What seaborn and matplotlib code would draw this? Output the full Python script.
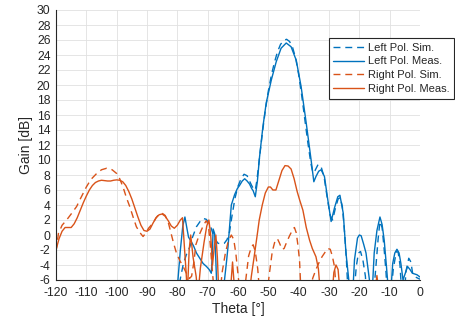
import matplotlib
matplotlib.use("Agg")
import matplotlib.pyplot as plt
import seaborn as sns

# values below -6 are clipped by the axis limit (MATLAB style)
left_sim_theta = [-80, -79, -78, -77, -75.9, -75, -73.7, -72.5, -71.5, -70.5, -69.9, -69, -68.3, -67.5,
                  -66.6, -65.5, -64.5, -63.6, -62.8, -62, -61, -60, -59, -58, -57, -56.2, -55.5, -54.8,
                  -54.3, -53.8, -53, -52, -51, -50, -49, -48, -47, -46, -45, -44, -43, -42, -41, -40,
                  -39, -38, -37, -36, -35.3, -34.6, -33.6, -32.6, -31.6, -30.6, -29.6, -28.8, -28, -27,
                  -26.3, -25.6, -25, -24.3, -23.7, -21.8, -21, -20.3, -19.6, -18.8, -18, -17.6, -15.3,
                  -14.6, -13.8, -13.2, -12.5, -11.9, -11.2, -10.8, -9.6, -8.8, -7.8, -7.2, -6.6, -6,
                  -5.2, -4.6, -3.7, -3.0, -2.4, -1.5, 0]
left_sim_gain = [-8, -5.8, -3.8, -2.6, -1.6, -0.3, 1.1, 1.8, 2.2, 2.1, 1.8, 1.1, 0.2, -0.6,
                 -1.1, -1.2, -1.1, -0.6, 0.4, 2.5, 4.9, 6.5, 7.5, 8.1, 7.9, 7.2, 6.6, 6.1,
                 6.0, 7.2, 10.0, 13.5, 16.6, 19.2, 21.3, 23.0, 24.4, 25.4, 25.9, 26.1, 25.8, 25.0, 23.6, 21.4,
                 18.6, 15.5, 12.4, 9.6, 8.3, 8.6, 9.4, 9.1, 7.7, 5.0, 2.6, 2.0, 3.4, 4.8,
                 5.0, 3.8, 1.0, -3, -8, -8, -4.2, -2.4, -2.2, -3.4, -5.5, -8, -8,
                 -4.5, -0.5, 1.8, 1.0, -1.5, -5, -8, -8, -4.5, -2.2, -2.3, -4, -8,
                 -8, -4.8, -3.1, -3.6, -5.2, -5.6, -5.9]

left_meas_theta = [-80, -79.8, -79, -78.2, -77.5, -76.8, -76.3, -75.5, -74.6, -73.7, -72.6, -71.5, -70.4,
                   -69.5, -68.8, -68.5, -68.2, -67.7, -67.3, -66.9, -65, -64.4, -63.8, -63.3, -62.7, -62.2,
                   -61.1, -60.2, -59.5, -58.6, -57.8, -57, -56.2, -55.5, -55, -54.3, -53.6, -52.9, -51.8,
                   -50.7, -49, -47.4, -45.8, -44.1, -42.5, -40.8, -39.2, -37.5, -35.9, -35, -34.3, -33.4,
                   -32.6, -31.5, -30.4, -29.3, -28.2, -27.1, -26.4, -25.3, -24.4, -23.5, -23.2, -22.2,
                   -21.6, -20.6, -20, -19.4, -18.6, -17.8, -16.7, -16.4, -15.8, -15.1, -14.2, -13.2, -12.5,
                   -11.8, -11.1, -10.7, -10.4, -9.7, -9, -8.3, -7.6, -6.9, -6.3, -5.6, -5.1, -4.1, -3.3,
                   -2.5, -1, 0]
left_meas_gain = [-8, -6, -2, 1.2, 2.4, 0.8, -0.3, -0.8, -1.5, -2.4, -3.1, -3.8, -4.2,
                  -4.6, -5.1, -3, 0.8, 0.2, -3.5, -8, -8, -5.8, -3.6, -1.6, 1.5, 4.0,
                  5.4, 6.2, 6.6, 7.2, 7.5, 7.2, 6.8, 6.2, 5.9, 5.1, 7.2, 10.4, 14.4,
                  17.6, 20.7, 23.1, 24.9, 25.6, 25.1, 23.3, 19.8, 14.9, 10.0, 7.1, 7.8, 8.5,
                  8.7, 7.8, 4.7, 1.8, 3.6, 5.1, 5.3, 2.9, -2.4, -5.9, -8, -8,
                  -3.3, -0.4, 0, -0.1, -1.2, -2.4, -5.9, -8, -8, -2.4, 0.6, 2.4, 1.4,
                  -0.7, -4, -6, -8, -8, -3.8, -2.4, -1.9, -2.4, -3.8, -6, -5.4, -4.2, -4.6,
                  -5.1, -5.3, -5.6]

right_sim_theta = [-120, -119.2, -118, -116.5, -115, -113.2, -112, -110, -108.5, -106.6, -105, -103.3,
                   -101.5, -100, -99, -97.9, -96.8, -95.7, -94.5, -93.5, -92.3, -91.3, -90.5, -89.5, -88,
                   -87, -86, -85, -84, -83, -82.3, -81.3, -80.3, -79.2, -78.1, -77, -76, -75.3, -74.5,
                   -73.9, -72.8, -71.5, -70.5, -69.8, -69.2, -68.5, -67.8, -66, -65.2, -64.2, -63.2, -62.2,
                   -61.4, -60.7, -59.8, -59.3, -58, -57.3, -56.5, -55.6, -55, -54.3, -53.5, -52.8, -50.5,
                   -49.6, -48.7, -47.8, -47, -46.3, -45.5, -44.8, -44, -43, -42, -41.4, -40.8, -40.2,
                   -39.7, -39.2, -36, -35.4, -34.3, -33.2, -32.3, -31.3, -30.4, -29.6, -28.9, -28.2,
                   -27.5, 0]
right_sim_gain = [-2.2, 0.2, 1.3, 2.0, 2.8, 3.8, 4.8, 6.4, 7.4, 8.2, 8.7, 8.9,
                  8.7, 8.2, 7.5, 6.4, 5.0, 3.8, 2.3, 1.1, 0.3, -0.2, 0.2, 0.9, 1.6,
                  2.3, 2.8, 2.9, 2.6, 1.7, 0.6, -1.0, -2.4, -3.4, -4.2, -5.1, -5.8, -5.5, -3.5,
                  -1.3, 0, 1.2, 1.9, 1.4, -1, -4.5, -8, -8, -4.9, -2.5, -0.8, 0,
                  -0.6, -2.5, -6, -8, -8, -5.5, -2.8, -1.6, -1.3, -2.2, -4.5, -8, -8,
                  -5, -2.2, -0.8, -0.5, -1.1, -1.9, -1.8, -1.0, -0.1, 0.7, 1.0, 0.3, -1.5,
                  -3.5, -8, -8, -5.8, -4.6, -3.6, -2.9, -2.3, -1.8, -1.9, -2.8, -4.2,
                  -8, -8]

right_meas_theta = [-120, -119, -118, -117, -116, -115, -114, -113, -112, -111, -110, -109, -108, -107,
                    -106, -105, -104, -103, -102, -101, -100, -99, -98, -97, -96, -95, -94, -93, -92,
                    -91, -90, -89, -88, -87, -86, -85, -84, -83, -82, -81, -80, -79, -78.3, -77.6,
                    -77.1, -76.7, -76.1, -75.6, -74.8, -73.8, -73.2, -72.4, -71.2, -70.3, -69.6, -69,
                    -68.4, -67.8, -67.3, -66.8, -66.3, -62.6, -61.8, -61, -56.3, -55.6, -54.5, -53.5,
                    -53, -52, -51, -50, -49.3, -48.5, -47.5, -46.5, -45.5, -44.5, -43.5, -42.5, -41.5,
                    -40.5, -39.7, -38.6, -37.5, -36.4, -35.5, -34.3, -33.5, -32.8, -29, -28.4, -27.7,
                    -27, -26.3, -15, -14.2, -13.5, 0]
right_meas_gain = [-2, -0.5, 0.5, 1.0, 1.0, 1.0, 1.5, 2.3, 3.3, 4.3, 5.2, 6.0, 6.6, 7.0,
                   7.2, 7.3, 7.25, 7.2, 7.2, 7.3, 7.35, 7.3, 7.1, 6.6, 5.8, 4.8, 3.6, 2.4, 1.3,
                   0.6, 0.5, 0.8, 1.6, 2.3, 2.7, 2.8, 2.5, 1.9, 1.2, 0.9, 1.3, 2.0, 2.3, -2,
                   -5, -8, -2, 0, -3, -5.5, -8, -4.4, -1, 1.2, 2.0, 0,
                   -4, -1.5, 0, -3, -8, -8, -3.6, -8, -8, -5.5, -2.4, 0.5,
                   2.0, 4.0, 5.6, 6.4, 6.4, 6.0, 6.0, 7.3, 8.6, 9.25, 9.2, 8.8, 7.5,
                   5.8, 4.7, 3.3, 1.0, -0.7, -1.8, -2.9, -4.5, -8, -8, -5, -4.0,
                   -4.6, -8, -8, -5.4, -8, -8]

x_ticks = list(range(-120, 1, 10))
y_ticks = list(range(-6, 31, 2))

blue = "#0072BD"
orange = "#D95319"
dark = "#262626"

sns.set_style("whitegrid")
plt.rcParams["font.family"] = ["Liberation Sans", "DejaVu Sans"]
plt.rcParams["axes.unicode_minus"] = False

fig = plt.figure(figsize=(4.55, 3.23), dpi=100)
ax = fig.add_axes([56 / 455, 1 - 280 / 323, 364 / 455, 270 / 323])

dash = (0, (5, 3.5))
sns.lineplot(x=left_sim_theta, y=left_sim_gain, ax=ax, color=blue, linewidth=1.0,
             linestyle=dash, sort=False, estimator=None, label="Left Pol. Sim.")
sns.lineplot(x=left_meas_theta, y=left_meas_gain, ax=ax, color=blue, linewidth=1.0,
             sort=False, estimator=None, label="Left Pol. Meas.")
sns.lineplot(x=right_sim_theta, y=right_sim_gain, ax=ax, color=orange, linewidth=1.0,
             linestyle=dash, sort=False, estimator=None, label="Right Pol. Sim.")
sns.lineplot(x=right_meas_theta, y=right_meas_gain, ax=ax, color=orange, linewidth=1.0,
             sort=False, estimator=None, label="Right Pol. Meas.")

ax.set_xlim(-120, 0)
ax.set_ylim(-6, 30)
ax.set_xticks(x_ticks)
ax.set_yticks(y_ticks)
ax.grid(True, color="#e1e1e1", linewidth=0.6)
ax.set_axisbelow(True)

for side in ["top", "right"]:
    ax.spines[side].set_visible(False)
for side in ["left", "bottom"]:
    ax.spines[side].set_color(dark)
    ax.spines[side].set_linewidth(0.8)

ax.tick_params(axis="both", direction="in", length=3, width=0.6, color=dark,
               labelcolor=dark, labelsize=8.7)
ax.tick_params(axis="x", pad=5)
ax.tick_params(axis="y", pad=4)
ax.set_xlabel("Theta [°]", fontsize=10, color=dark, labelpad=2)
ax.set_ylabel("Gain [dB]", fontsize=10, color=dark, labelpad=3)

leg = ax.legend(loc="upper right", bbox_to_anchor=(1.093, 0.896), fontsize=8,
                fancybox=False, framealpha=1, edgecolor=dark, borderpad=0.4,
                handlelength=2.8, handletextpad=0.3, labelspacing=0.35, borderaxespad=0)
leg.get_frame().set_linewidth(0.8)
for t in leg.get_texts():
    t.set_color(dark)

fig.savefig("out.png", dpi=100)
